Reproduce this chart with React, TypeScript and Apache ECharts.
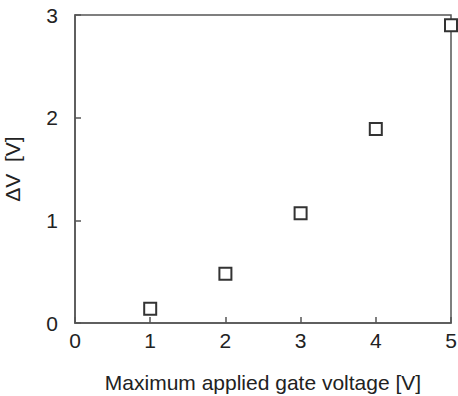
import React, { useEffect, useRef } from "react";
import * as echarts from "echarts";

const xValues = [1, 2, 3, 4, 5];
const deltaV = [0.14, 0.48, 1.07, 1.89, 2.9];
const xTitle = "Maximum applied gate voltage [V]";
const yTitle = "ΔV  [V]";

export default function App() {
  const ref = useRef<HTMLDivElement>(null);
  useEffect(() => {
    if (!ref.current) return;
    const chart = echarts.init(ref.current, null, { renderer: "svg" });
    const font = "'Liberation Sans', Arial, sans-serif";
    const axisColor = "#555";
    const textColor = "#222";
    chart.setOption({
      animation: false,
      backgroundColor: "#fff",
      grid: {
        left: 75,
        right: 7,
        top: 15,
        bottom: 73,
        containLabel: false,
        outerBoundsMode: "none",
        show: true,
        borderColor: axisColor,
        borderWidth: 1.5,
        backgroundColor: "transparent",
      },
      xAxis: {
        type: "value",
        min: 0,
        max: 5,
        interval: 1,
        name: xTitle,
        nameLocation: "middle",
        nameGap: 49,
        nameTextStyle: { fontFamily: font, fontSize: 21, color: textColor },
        axisLine: { show: true, lineStyle: { color: axisColor, width: 1.5 } },
        axisTick: { show: true, inside: true, length: 6, lineStyle: { color: axisColor, width: 1.5 } },
        axisLabel: { fontFamily: font, fontSize: 21, color: textColor, margin: 7 },
        splitLine: { show: false },
      },
      yAxis: {
        type: "value",
        min: 0,
        max: 3,
        interval: 1,
        name: yTitle,
        nameLocation: "middle",
        nameGap: 52,
        nameTextStyle: { fontFamily: font, fontSize: 21, color: textColor },
        axisLine: { show: true, lineStyle: { color: axisColor, width: 1.5 } },
        axisTick: { show: true, inside: true, length: 6, lineStyle: { color: axisColor, width: 1.5 } },
        axisLabel: { fontFamily: font, fontSize: 21, color: textColor, margin: 17 },
        splitLine: { show: false },
      },
      series: [
        {
          type: "scatter",
          data: xValues.map((x, i) => [x, deltaV[i]]),
          symbol: "rect",
          symbolSize: 12,
          clip: false,
          itemStyle: { color: "#fff", borderColor: "#333", borderWidth: 2, opacity: 1 },
        },
      ],
    });
    return () => chart.dispose();
  }, []);
  return (
    <div
      ref={ref}
      style={{ position: "fixed", left: 0, top: 0, width: 458, height: 396 }}
    />
  );
}
